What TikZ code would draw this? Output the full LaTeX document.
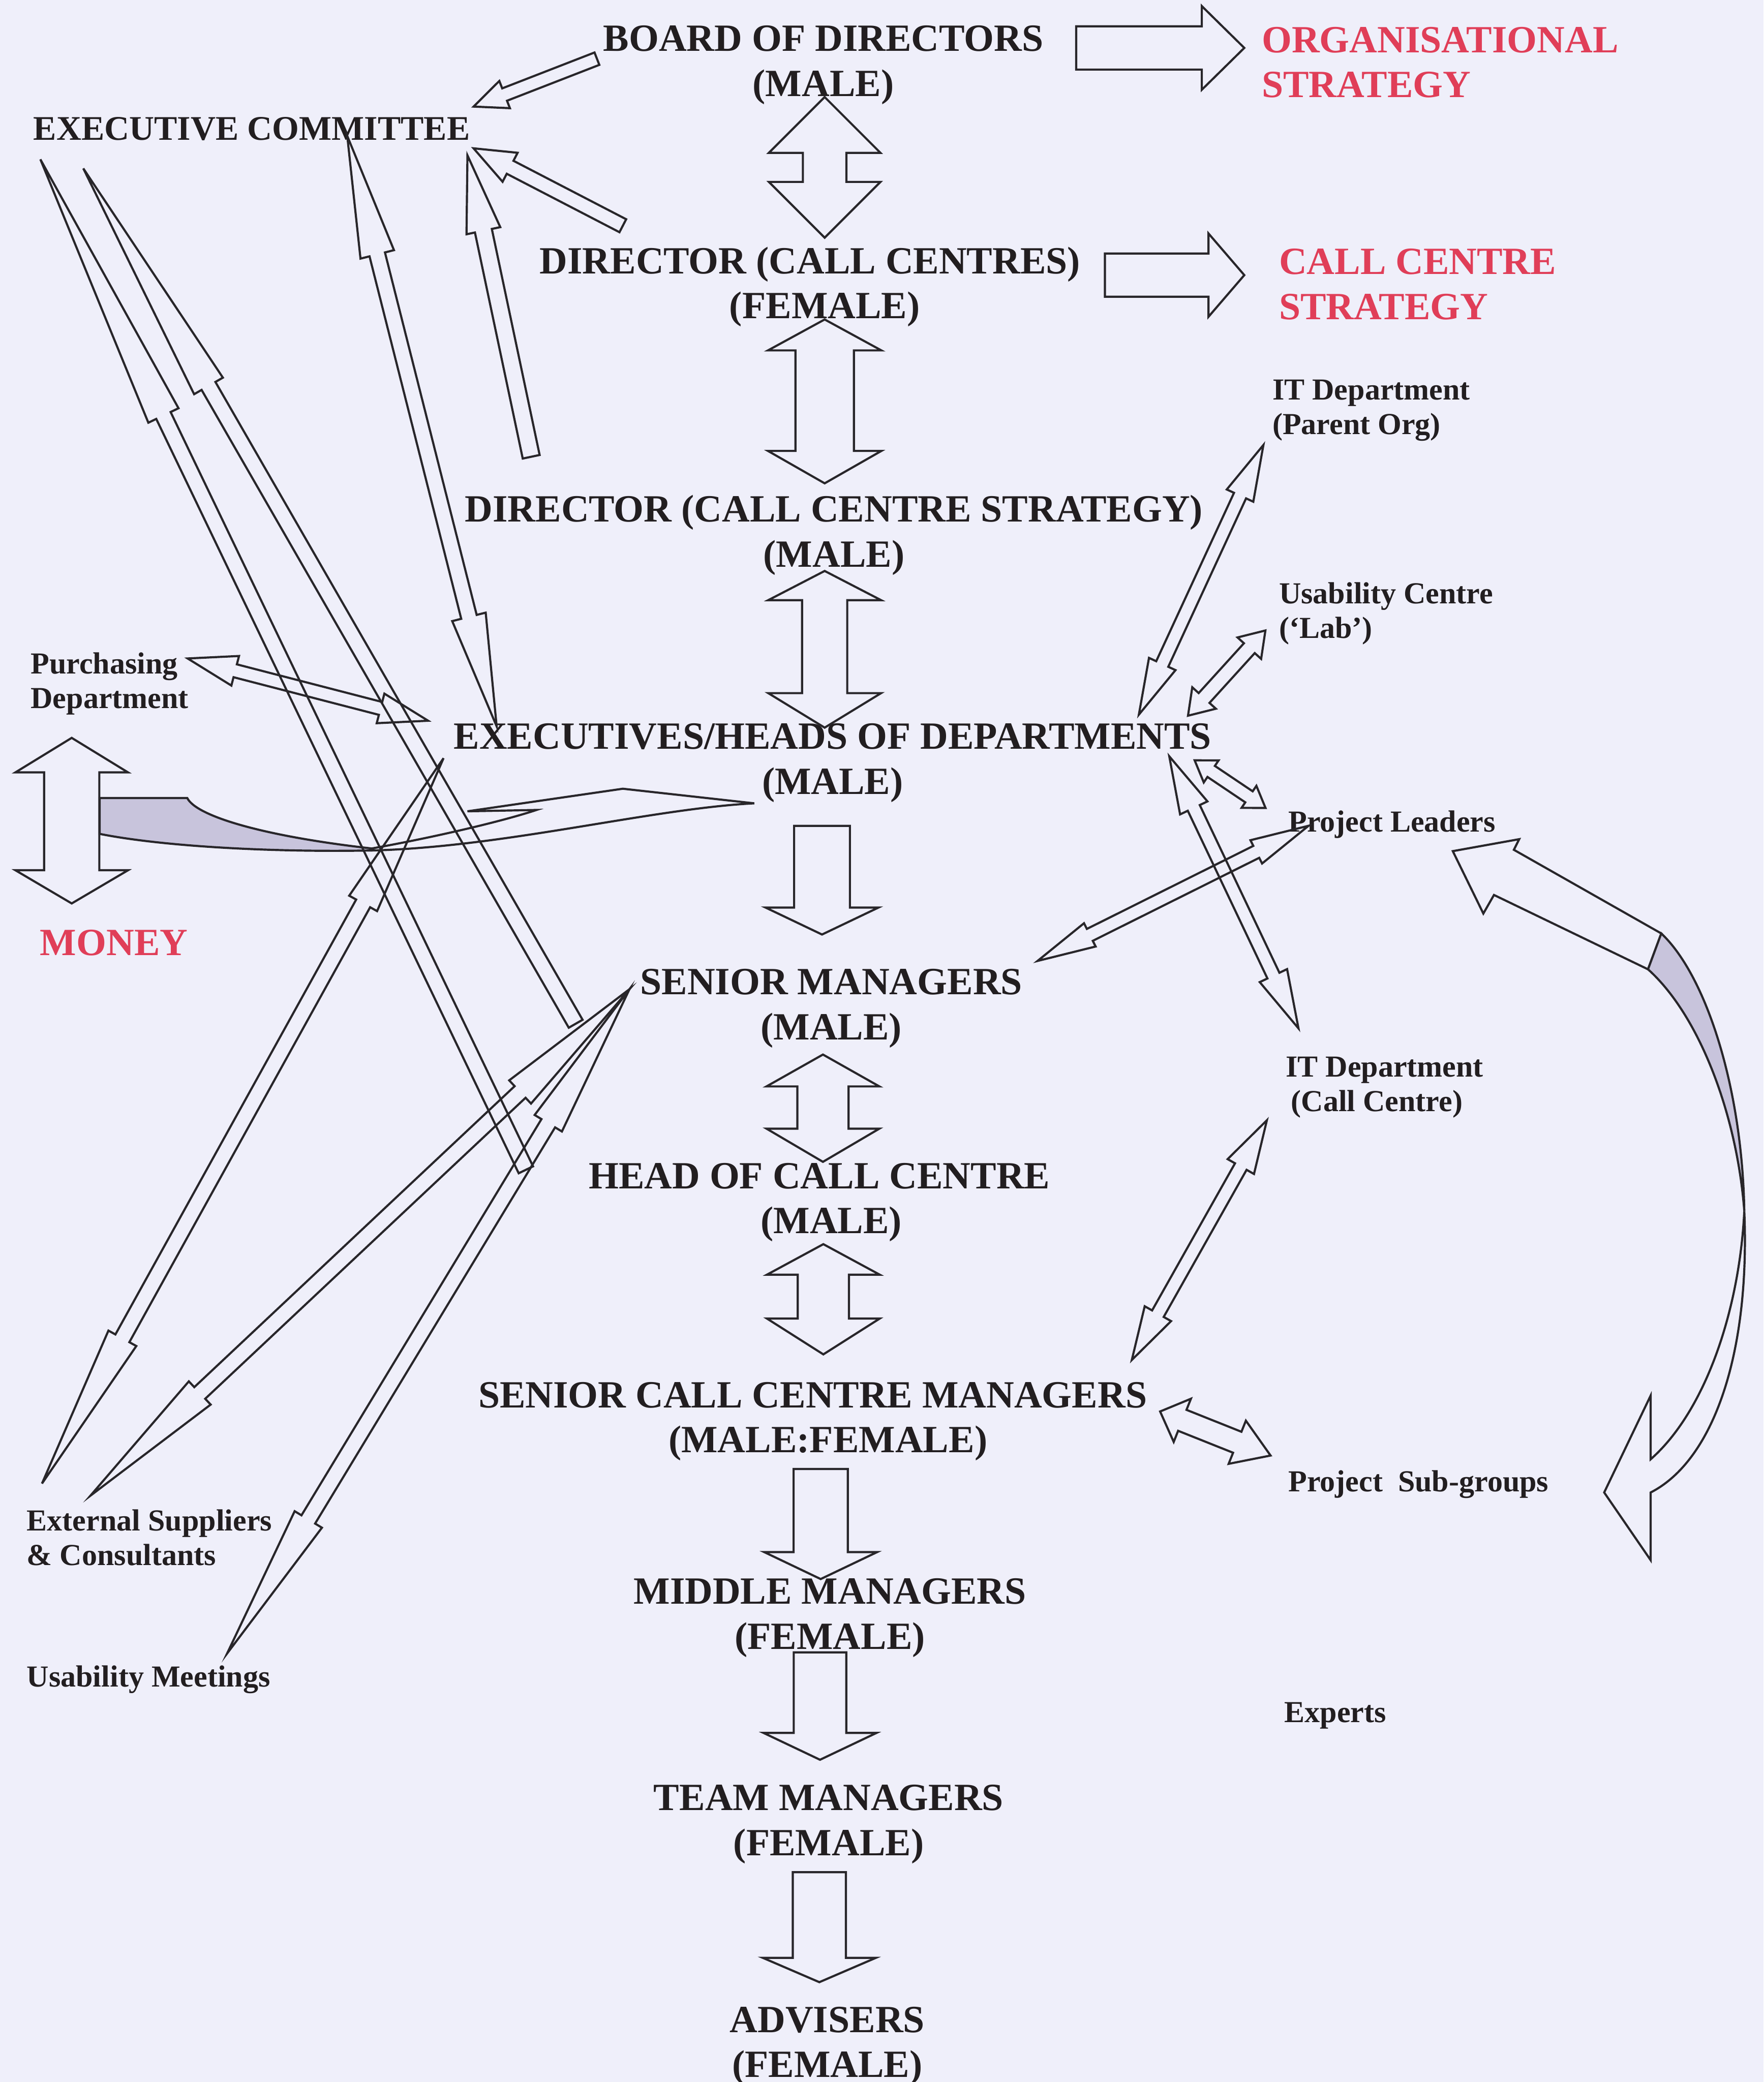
\documentclass[tikz,border=0pt]{standalone}
\usepackage{fontspec}
\setmainfont{Liberation Serif}
\usetikzlibrary{calc}

\definecolor{bgpaper}{RGB}{239,239,250}
\definecolor{inkblack}{RGB}{34,30,32}
\definecolor{inkline}{RGB}{40,38,42}
\definecolor{redlabel}{RGB}{224,62,88}
\definecolor{bandgray}{RGB}{200,196,220}

% block arrow, head at #2: from, to, half shaft, half head, head length
\newcommand{\onewayarrow}[5]{%
  \draw[blockline] let \p1=(#1), \p2=(#2),
      \n1={atan2(\y2-\y1,\x2-\x1)}, \n2={veclen(\x2-\x1,\y2-\y1)} in
    [shift={(\p1)}, rotate=\n1]
    (0,#3) -- ({\n2-#5},#3) -- ({\n2-#5},#4) -- (\n2,0) -- ({\n2-#5},-#4)
    -- ({\n2-#5},-#3) -- (0,-#3) -- cycle;}
% block arrow, heads at both ends: from, to, half shaft, half head, head length at from, at to
\newcommand{\twowayarrow}[6]{%
  \draw[blockline] let \p1=(#1), \p2=(#2),
      \n1={atan2(\y2-\y1,\x2-\x1)}, \n2={veclen(\x2-\x1,\y2-\y1)} in
    [shift={(\p1)}, rotate=\n1]
    (0,0) -- (#5,#4) -- (#5,#3) -- ({\n2-#6},#3) -- ({\n2-#6},#4) -- (\n2,0)
    -- ({\n2-#6},-#4) -- ({\n2-#6},-#3) -- (#5,-#3) -- (#5,-#4) -- cycle;}

\begin{document}
\begin{tikzpicture}[
  x=1pt, y=-1pt,
  mainlbl/.style={inner sep=0pt, align=center, text=inkblack, font={\fontsize{29}{34}\selectfont\bfseries}},
  redlbl/.style={inner sep=0pt, align=left, anchor=west, text=redlabel, font={\fontsize{29}{34}\selectfont\bfseries}},
  sidelbl/.style={inner sep=0pt, align=left, anchor=west, text=inkblack, font={\fontsize{23}{26}\selectfont\bfseries}},
  blockline/.style={draw=inkline, line width=1.6pt, line join=miter},
  bandfill/.style={draw=inkline, line width=1.6pt, fill=bandgray}
]
\useasboundingbox (0,0) rectangle (1328,1568);
\fill[bgpaper] (0,0) rectangle (1328,1568);

% hierarchy
\node[mainlbl] (board) at (620,49) {BOARD OF DIRECTORS\\(MALE)};
\node[mainlbl] (dircc) at (610,216) {DIRECTOR (CALL CENTRES)\\\hspace*{22pt}(FEMALE)};
\node[mainlbl] (dirccs) at (628,403) {DIRECTOR (CALL CENTRE STRATEGY)\\(MALE)};
\node[mainlbl] (execs) at (627,574.5) {EXECUTIVES/HEADS OF DEPARTMENTS\\(MALE)};
\node[mainlbl] (senior) at (626,759.5) {SENIOR MANAGERS\\(MALE)};
\node[mainlbl] (headcc) at (617,905.5) {HEAD OF CALL CENTRE\\\hspace*{18pt}(MALE)};
\node[mainlbl] (seniorcc) at (612,1070.5) {SENIOR CALL CENTRE MANAGERS\\\hspace*{23pt}(MALE:FEMALE)};
\node[mainlbl] (middle) at (625,1218.5) {MIDDLE MANAGERS\\(FEMALE)};
\node[mainlbl] (team) at (624,1374) {TEAM MANAGERS\\(FEMALE)};
\node[mainlbl] (advisers) at (623,1541) {ADVISERS\\(FEMALE)};

\node[mainlbl, anchor=west, font={\fontsize{26}{30}\selectfont\bfseries}] (execcom) at (25,97) {EXECUTIVE COMMITTEE};
\node[redlbl] (orgstrat) at (950,47) {ORGANISATIONAL\\STRATEGY};
\node[redlbl] (ccstrat) at (963,214) {CALL CENTRE\\STRATEGY};
\node[redlbl] (money) at (30,710) {MONEY};

\node[sidelbl] (purchase) at (23,515) {Purchasing\\Department};
\node[sidelbl] (extsupp) at (20,1158) {External Suppliers\\\& Consultants};
\node[sidelbl] (usemeet) at (20,1265) {Usability Meetings};
\node[sidelbl] (itparent) at (958,309) {IT Department\\(Parent Org)};
\node[sidelbl] (usecentre) at (963,462) {Usability Centre\\(‘Lab’)};
\node[sidelbl] (projlead) at (970,621) {Project Leaders};
\node[sidelbl] (itcc) at (968,819) {IT Department\\\hspace*{4pt}(Call Centre)};
\node[sidelbl] (subgroups) at (970,1118) {Project\ \ Sub-groups};
\node[sidelbl] (experts) at (967,1292) {Experts};

% arrow ends
\coordinate (bd-s) at (621,73.1);     \coordinate (dcc-n) at (621,179);
\coordinate (dcc-s) at (621,240.6);   \coordinate (dccs-n) at (621,364);
\coordinate (dccs-s) at (621,430);    \coordinate (ex-n) at (621,548);
\coordinate (ex-s) at (619,622);      \coordinate (sm-n) at (619,703.8);
\coordinate (sm-s) at (619.7,794.2);  \coordinate (hcc-n) at (619.7,875);
\coordinate (hcc-s) at (620,937);     \coordinate (scc-n) at (620,1020);
\coordinate (scc-s) at (618,1106.3);  \coordinate (mm-n) at (618,1189.2);
\coordinate (mm-s) at (617.5,1244.4); \coordinate (tm-n) at (617.5,1325.3);
\coordinate (tm-s) at (617,1410);     \coordinate (adv-n) at (617,1492.8);

\coordinate (bd-e) at (810.4,36.1);   \coordinate (os-w) at (937,36.1);
\coordinate (dcc-e) at (832,207.2);   \coordinate (cs-w) at (937,207.2);

\coordinate (bd-w) at (449.5,44.2);   \coordinate (ec-e1) at (356.6,80.3);
\coordinate (dcc-w) at (469,170);     \coordinate (ec-e2) at (356.6,111.7);
\coordinate (ex-up) at (400,344);     \coordinate (ec-e3) at (352,117);
\coordinate (ec-s) at (261.5,102.4);  \coordinate (ex-nw) at (374,547);
\coordinate (hcc-tail) at (396,881);  \coordinate (ec-sw1) at (30.3,119.8);
\coordinate (sm-tail) at (433.5,771); \coordinate (ec-sw2) at (62.7,126.8);

\coordinate (pd-e) at (141.3,495.9);  \coordinate (ex-w) at (322.4,542.8);
\coordinate (ex-sw) at (334,571);     \coordinate (es-n1) at (31.6,1117.3);
\coordinate (sm-w) at (474,745);      \coordinate (es-n2) at (68,1126.5);
\coordinate (um-n) at (171,1245.3);
\coordinate (mo-n) at (54,555.7);     \coordinate (mo-s) at (54,680.4);

\coordinate (ex-ne) at (857.6,538.2); \coordinate (itp-s) at (951.4,335.1);
\coordinate (ex-ne2) at (894.6,539);  \coordinate (uc-s) at (953,474.7);
\coordinate (ex-e) at (899.6,572.6);  \coordinate (pl-w) at (953,608.5);
\coordinate (ex-se) at (880.5,569.6); \coordinate (itc-n) at (977.8,774.5);
\coordinate (sm-e) at (781.3,723.7);  \coordinate (pl-sw) at (985.4,621.9);
\coordinate (scc-ne) at (852.3,1024.2); \coordinate (itc-s) at (954,843.7);
\coordinate (scc-e) at (873.6,1063);  \coordinate (psg-w) at (956.8,1096.2);

% money loop
\draw[bandfill] (75,601) -- (141,601) .. controls (148,615) and (200,630) .. (280,639)
  -- (280,640.5) .. controls (200,642) and (120,637) .. (75,628) -- cycle;
\draw[blockline] (280,639) .. controls (330,630) and (380,618) .. (404,610) -- (352,611)
  -- (469,594) -- (568,605) .. controls (490,609) and (380,638) .. (280,640.5);

% project loop
\draw[blockline] (1094,641) -- (1144,632) -- (1140,640) -- (1251,703) -- (1241,730)
  -- (1125,674) -- (1117,688) -- cycle;
\draw[bandfill] (1251,703) .. controls (1285,735) and (1312,820) .. (1313.5,912)
  .. controls (1308,840) and (1280,765) .. (1241,730) -- cycle;
\draw[blockline] (1313.5,912) .. controls (1310,985) and (1285,1062) .. (1243,1099)
  -- (1243,1051) -- (1208,1124) -- (1243,1175) -- (1243,1124)
  .. controls (1290,1100) and (1318,1020) .. (1313.5,912);

\twowayarrow{bd-s}{dcc-n}{16.4}{42}{42}{42}
\twowayarrow{dcc-s}{dccs-n}{22}{42.7}{23.3}{24.4}
\twowayarrow{dccs-s}{ex-n}{17}{42.5}{22}{26}
\onewayarrow{ex-s}{sm-n}{21}{42.5}{20.3}
\twowayarrow{sm-s}{hcc-n}{19.3}{42.5}{24}{25}
\twowayarrow{hcc-s}{scc-n}{19.3}{42.5}{23}{27}
\onewayarrow{scc-s}{mm-n}{20.4}{42.5}{20.3}
\onewayarrow{mm-s}{tm-n}{19.8}{42.5}{20.2}
\onewayarrow{tm-s}{adv-n}{20}{42.5}{18.3}

\onewayarrow{bd-e}{os-w}{16.3}{31.5}{32}
\onewayarrow{dcc-e}{cs-w}{16.3}{31.4}{27}

\onewayarrow{bd-w}{ec-e1}{5}{11}{25}
\onewayarrow{dcc-w}{ec-e2}{5.5}{12.3}{31}
\onewayarrow{ex-up}{ec-e3}{6.5}{13}{58}
\twowayarrow{ec-s}{ex-nw}{6}{13}{92}{85}
\onewayarrow{hcc-tail}{ec-sw1}{6}{12.6}{214}
\onewayarrow{sm-tail}{ec-sw2}{6}{12.5}{189}

\twowayarrow{pd-e}{ex-w}{5}{11.5}{37}{37}
\twowayarrow{ex-sw}{es-n1}{6}{12}{125}{125}
\twowayarrow{sm-w}{es-n2}{6}{12}{113}{113}
\twowayarrow{sm-w}{um-n}{6}{12}{118}{118}
\twowayarrow{mo-n}{mo-s}{20.8}{42.4}{26}{25}

\twowayarrow{ex-ne}{itp-s}{5}{11}{42}{42}
\twowayarrow{ex-ne2}{uc-s}{5.5}{12}{18}{18}
\twowayarrow{ex-e}{pl-w}{5}{10}{15}{15}
\twowayarrow{ex-se}{itc-n}{5}{11.4}{43}{44}
\twowayarrow{sm-e}{pl-sw}{5}{9.8}{44}{44}
\twowayarrow{scc-ne}{itc-s}{5}{11.4}{40}{40}
\twowayarrow{scc-e}{psg-w}{8.5}{17.5}{18}{27}
\end{tikzpicture}
\end{document}
